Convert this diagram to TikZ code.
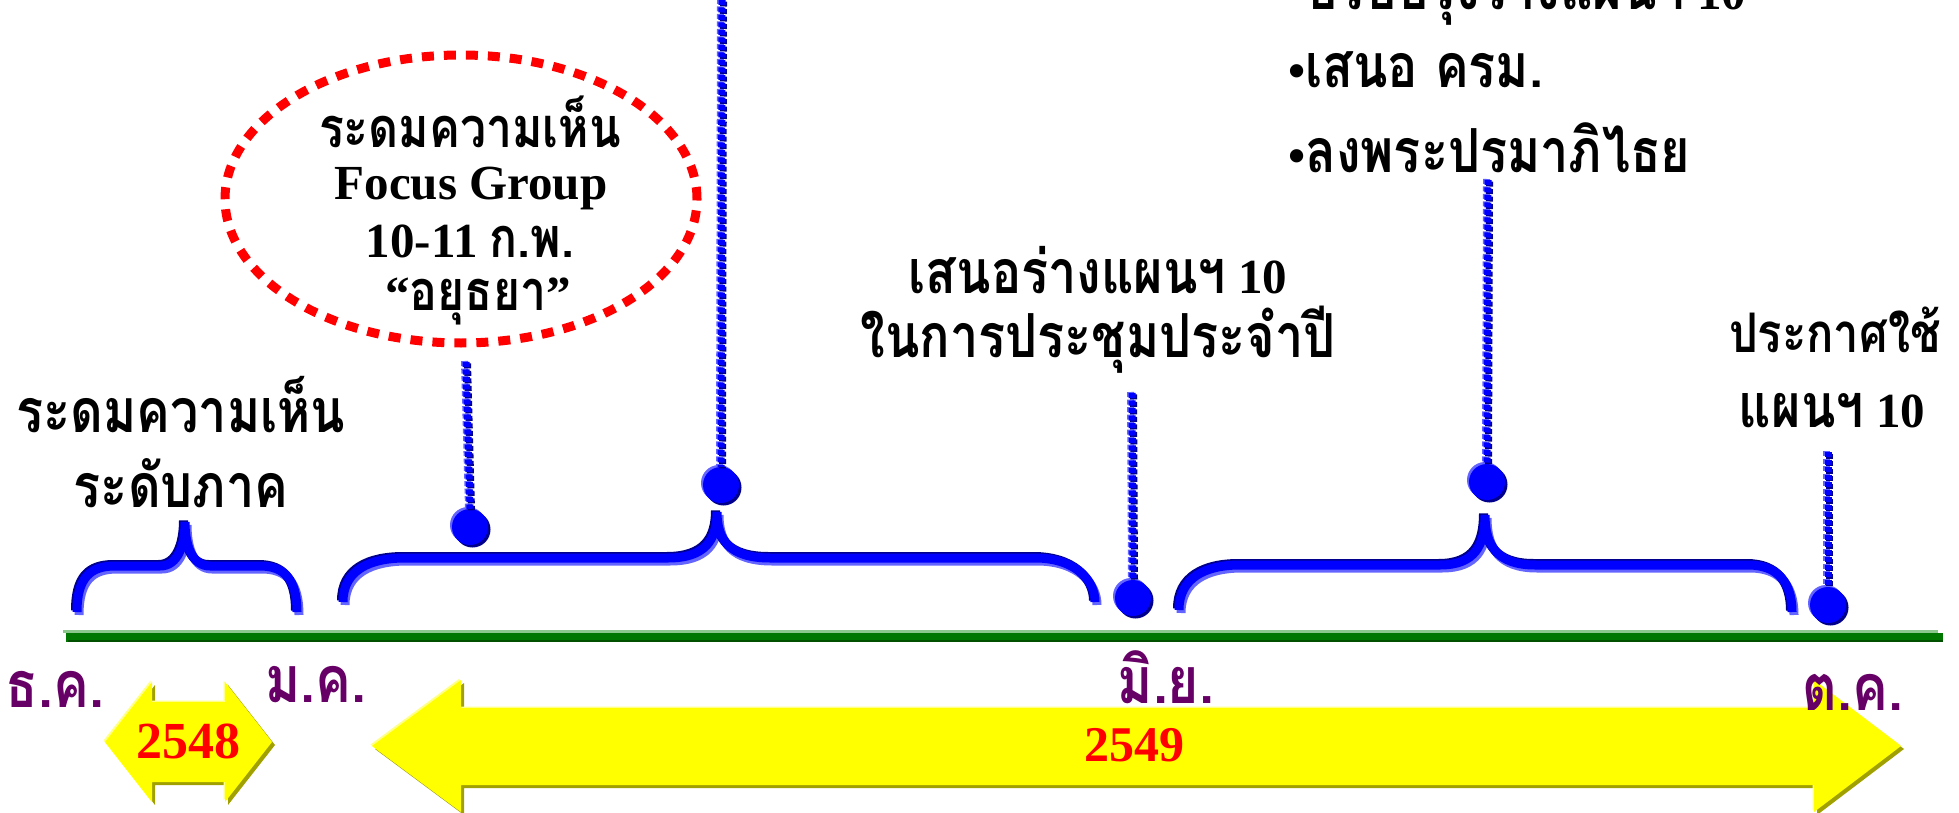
\documentclass[tikz,border=0pt]{standalone}
\usepackage{fontspec}
\setmainfont{Liberation Serif}
\newfontfamily\thaifont[Script=Thai,Scale=1.24,FakeStretch=0.83]{Loma}
\newcommand{\thx}[1]{{\thaifont #1}}
\newcommand{\thxs}[1]{{\fontsize{45}{54}\selectfont\thaifont #1}}
\usetikzlibrary{shapes.geometric}
\definecolor{bmain}{RGB}{0,0,255}
\definecolor{bdark}{RGB}{0,0,140}
\definecolor{blight}{RGB}{100,100,255}
\definecolor{gmain}{RGB}{0,120,0}
\definecolor{glight}{RGB}{140,200,140}
\definecolor{gdark}{RGB}{0,80,0}
\definecolor{yel}{RGB}{255,255,0}
\definecolor{yshadow}{RGB}{160,160,0}
\definecolor{ylight}{RGB}{255,255,140}
\definecolor{mpurple}{RGB}{102,0,102}
\definecolor{yred}{RGB}{255,0,0}
\tikzset{
  lbl/.style={anchor=base, inner sep=0pt, font=\bfseries\fontsize{49}{58}\selectfont, text=black},
  month/.style={anchor=base, inner sep=0pt, font=\bfseries\fontsize{52}{60}\selectfont, text=mpurple},
  year/.style={inner sep=0pt, font=\bfseries\fontsize{52}{60}\selectfont, text=yred},
  dotnode/.style={circle, inner sep=0pt, minimum size=36pt, fill=bmain,
     preaction={fill=blight, transform canvas={shift={(-2,-2)}}},
     preaction={fill=bdark, transform canvas={shift={(2.5,2.5)}}}},
  bracebar/.style={line width=9pt, draw=bmain,
     preaction={draw=blight, line width=9pt, transform canvas={shift={(2,3)}}},
     preaction={draw=bdark, line width=9pt, transform canvas={shift={(-1.5,-1.5)}}}},
  chainline/.style={line width=7pt, draw=bmain, dash pattern=on 5pt off 2.5pt,
     preaction={draw=bdark, line width=7pt, dash pattern=on 5pt off 2.5pt, transform canvas={shift={(1.5,1.5)}}},
     preaction={draw=blight, line width=7pt, dash pattern=on 5pt off 2.5pt, transform canvas={shift={(-1.5,-1)}}}},
  reddash/.style={ellipse, draw=yred, line width=9pt, dash pattern=on 12pt off 10pt, inner sep=0pt},
  yarrow/.style={fill=yel},
  yarrowshadow/.style={fill=yshadow},
}
\begin{document}
\begin{tikzpicture}[x=1pt,y=-1pt]
\useasboundingbox (0,0) rectangle (1959,813);
\clip (0,0) rectangle (1959,813);

% yellow year arrows
\fill[yarrowshadow, shift={(3,3)}] (105,742) -- (152,682) -- (152,702) -- (225,702) -- (225,682) -- (272,742) -- (225,802) -- (225,782) -- (152,782) -- (152,802) -- cycle;
\fill[ylight, shift={(-1.5,-1.5)}] (105,742) -- (152,682) -- (152,702) -- (225,702) -- (225,682) -- (272,742) -- (225,802) -- (225,782) -- (152,782) -- (152,802) -- cycle;
\fill[yarrow] (105,742) -- (152,682) -- (152,702) -- (225,702) -- (225,682) -- (272,742) -- (225,802) -- (225,782) -- (152,782) -- (152,802) -- cycle;

\fill[yarrowshadow, shift={(3,3)}] (372,746) -- (461,680) -- (461,708) -- (1814,708) -- (1814,680) -- (1901,746) -- (1814,812) -- (1814,785) -- (461,785) -- (461,812) -- cycle;
\fill[ylight, shift={(-1.5,-1.5)}] (372,746) -- (461,680) -- (461,708) -- (1814,708) -- (1814,680) -- (1901,746) -- (1814,812) -- (1814,785) -- (461,785) -- (461,812) -- cycle;
\fill[yarrow] (372,746) -- (461,680) -- (461,708) -- (1814,708) -- (1814,680) -- (1901,746) -- (1814,812) -- (1814,785) -- (461,785) -- (461,812) -- cycle;

\node[year] (y1) at (188,741) {2548};
\node[year, font=\bfseries\fontsize{50}{60}\selectfont] (y2) at (1134,745) {2549};

% green timeline
\draw[glight, line width=3pt] (63,631.5) -- (1938,631.5);
\draw[gmain, line width=9pt] (66,637) -- (1943,637);
\draw[gdark, line width=2pt] (68,641) -- (1943,641);

% month labels
\node[month] (mdec) at (55,707) {\thx{ธ.ค.}};
\node[month] (mjan) at (316,702) {\thx{ม.ค.}};
\node[month] (mjun) at (1166,703) {\thx{มิ.ย.}};
\node[month] (moct) at (1853,710) {\thx{ต.ค.}};

% braces
\path[bracebar] (77,612) .. controls (77,578) and (90,566) .. (115,566) -- (160,566) .. controls (178,566) and (185,545) .. (185,522) .. controls (185,545) and (192,566) .. (210,566) -- (260,566) .. controls (285,566) and (297,580) .. (297,612);
\path[bracebar] (343,602) .. controls (343,570) and (370,558) .. (405,558) -- (668,558) .. controls (705,558) and (717,540) .. (717,512) .. controls (717,540) and (730,558) .. (770,558) -- (1035,558) .. controls (1075,558) and (1095,580) .. (1095,602);
\path[bracebar] (1179,610) .. controls (1179,578) and (1205,565) .. (1240,565) -- (1440,565) .. controls (1475,565) and (1485,545) .. (1485,515) .. controls (1485,545) and (1497,565) .. (1535,565) -- (1748,565) .. controls (1780,565) and (1792,585) .. (1792,612);

% dots and chain lines
\coordinate (t1) at (466,362);
\coordinate (t2) at (722,0);
\coordinate (t3) at (1132,393);
\coordinate (t4) at (1488,180);
\coordinate (t5) at (1828,452);
\node[dotnode] (d1) at (470,527) {};
\node[dotnode] (d2) at (721,485) {};
\node[dotnode] (d3) at (1133,598) {};
\node[dotnode] (d4) at (1487,482) {};
\node[dotnode] (d5) at (1828,605) {};
\path[chainline] (t1) -- (d1.north);
\path[chainline] (t2) -- (d2.north);
\path[chainline] (t3) -- (d3.north);
\path[chainline] (t4) -- (d4.north);
\path[chainline] (t5) -- (d5.north);

% ellipse
\node[reddash, minimum width=472pt, minimum height=288pt] (ell) at (461,199) {};
\node[lbl] (e1) at (470,148) {\thxs{ระดมความเห็น}};
\node[lbl] (e2) at (471,200) {Focus Group};
\node[lbl] (e3) at (470,257) {10-11 \thxs{ก.พ.}};
\node[lbl] (e4) at (478,310) {“\thxs{อยุธยา}”};

% other labels
\node[lbl] (l1) at (181,432) {\thx{ระดมความเห็น}};
\node[lbl] (l2) at (181,507) {\thx{ระดับภาค}};
\node[lbl] (m1) at (1098,293) {\thx{เสนอร่างแผนฯ} 10};
\node[lbl] (m2) at (1098,357) {\thx{ในการประชุมประจำปี}};
\node[lbl, anchor=base west] (r0) at (1288,10) {•\thx{ปรับปรุงร่างแผนฯ} 10};
\node[lbl, anchor=base west] (r1) at (1288,88) {•\thx{เสนอ ครม.}};
\node[lbl, anchor=base west] (r2) at (1288,173) {•\thx{ลงพระปรมาภิไธย}};
\node[lbl, font=\bfseries\fontsize{44}{54}\selectfont] (p1) at (1835,352) {\thx{ประกาศใช้}};
\node[lbl] (p2) at (1832,427) {\thx{แผนฯ} 10};
\end{tikzpicture}
\end{document}
